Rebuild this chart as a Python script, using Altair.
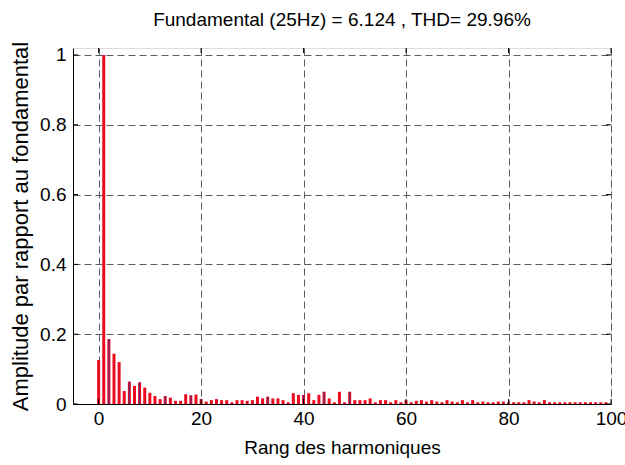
import altair as alt
import pandas as pd

harmonics = list(range(0, 100))
amplitudes = [
    0.126, 1.0, 0.186, 0.144, 0.12, 0.037, 0.064, 0.052, 0.062, 0.047,
    0.032, 0.023, 0.014, 0.023, 0.018, 0.009, 0.009, 0.028, 0.025, 0.027,
    0.014, 0.007, 0.011, 0.014, 0.011, 0.011, 0.005, 0.011, 0.011, 0.009,
    0.011, 0.021, 0.016, 0.021, 0.016, 0.016, 0.011, 0.005, 0.031, 0.026,
    0.026, 0.031, 0.011, 0.026, 0.035, 0.016, 0.005, 0.035, 0.005, 0.035,
    0.011, 0.011, 0.011, 0.016, 0.005, 0.011, 0.011, 0.005, 0.011, 0.005,
    0.011, 0.005, 0.009, 0.011, 0.007, 0.011, 0.007, 0.005, 0.011, 0.007,
    0.005, 0.011, 0.005, 0.011, 0.005, 0.007, 0.005, 0.005, 0.007, 0.007,
    0.005, 0.005, 0.005, 0.005, 0.011, 0.007, 0.005, 0.011, 0.005, 0.005,
    0.005, 0.005, 0.005, 0.005, 0.005, 0.005, 0.005, 0.005, 0.005, 0.005,
]
dark_harmonics = [2, 6, 8, 13, 18, 33, 40, 44, 49]

x_ticks = [0, 20, 40, 60, 80, 100]
y_ticks = [0, 0.2, 0.4, 0.6, 0.8, 1]
x_domain = [-5, 100]
y_domain = [0, 1.02]

title_text = "Fundamental (25Hz) = 6.124 , THD= 29.96%"
x_title = "Rang des harmoniques"
y_title = "Amplitude par rapport au fondamental"

df = pd.DataFrame({"h": harmonics, "a": amplitudes})
df_dark = df[df["h"].isin(dark_harmonics)]

FONT = "Liberation Sans"

xs = alt.Scale(domain=x_domain, nice=False, zero=False, padding=0)
ys = alt.Scale(domain=y_domain, nice=False, padding=0)

x_axis = alt.Axis(values=x_ticks, grid=True, gridDash=[7, 4], gridColor="#4a4a4a",
                  gridOpacity=0.9, ticks=False, labelFontSize=19, labelFont=FONT,
                  labelColor="black", labelPadding=5, title=x_title, titleFont=FONT,
                  titleFontSize=19, titleFontWeight="normal", titleColor="black",
                  titlePadding=10, domainColor="black", labelFlush=False)
y_axis = alt.Axis(values=y_ticks, grid=True, gridDash=[7, 4], gridColor="#4a4a4a",
                  gridOpacity=0.9, ticks=False, format="~g", labelFontSize=19,
                  labelFont=FONT, labelColor="black", labelPadding=7, title=y_title,
                  titleFont=FONT, titleFontSize=22, titleFontWeight="normal",
                  titleColor="black", titlePadding=7, domainColor="black")

bars = alt.Chart(df).mark_bar(size=3, orient="vertical", color="#ec0a1e").encode(
    x=alt.X("h:Q", scale=xs, axis=x_axis),
    y=alt.Y("a:Q", scale=ys, axis=y_axis),
)
dark = alt.Chart(df_dark).mark_bar(size=1, orient="vertical", color="#5a2a7a").encode(
    x=alt.X("h:Q", scale=xs),
    y=alt.Y("a:Q", scale=ys),
)

xt = pd.DataFrame({"t": x_ticks})
yt = pd.DataFrame({"t": y_ticks})
tick_bottom = alt.Chart(xt).mark_rule(color="black").encode(
    x=alt.X("t:Q", scale=xs), y=alt.value(356), y2=alt.value(351))
tick_top = alt.Chart(xt).mark_rule(color="black").encode(
    x=alt.X("t:Q", scale=xs), y=alt.value(0), y2=alt.value(5))
tick_left = alt.Chart(yt).mark_rule(color="black").encode(
    y=alt.Y("t:Q", scale=ys), x=alt.value(0), x2=alt.value(5))
tick_right = alt.Chart(yt).mark_rule(color="black").encode(
    y=alt.Y("t:Q", scale=ys), x=alt.value(538), x2=alt.value(533))

chart = alt.layer(bars, dark, tick_bottom, tick_top, tick_left, tick_right).properties(
    width=538,
    height=356,
    title=alt.TitleParams(title_text, font=FONT, fontSize=19, fontWeight="normal",
                          color="black", offset=11),
    padding={"left": 73, "top": 48, "right": 14, "bottom": 61},
    autosize=alt.AutoSizeParams(type="none"),
).configure_view(stroke="black", strokeWidth=1).configure(background="white")

chart.save("out.html", embed_options={"renderer": "svg", "actions": False})
